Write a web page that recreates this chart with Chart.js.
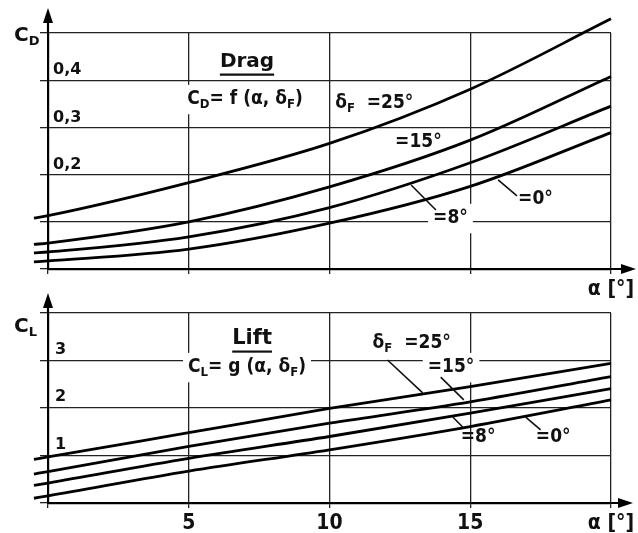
<!DOCTYPE html>
<html>
<head>
<meta charset="utf-8">
<script src="https://cdn.jsdelivr.net/npm/chart.js@4.4.1/dist/chart.umd.min.js"></script>
<style>
  body { margin: 0; background: #fff; }
  #wrap { position: relative; width: 638px; height: 533px; overflow: hidden; }
  canvas { position: absolute; left: 0; }
</style>
</head>
<body>
<div id="wrap">
  <canvas id="dragChart" width="638" height="300" style="top:0"></canvas>
  <canvas id="liftChart" width="638" height="248" style="top:285px"></canvas>
</div>
<script>
// angle of attack (deg) and read-off values
const alphaTicks = [0, 5, 10, 15, 20];
const dragAlphaLabels = ['', '', '', '', 'α [°]'];
const liftAlphaLabels = ['', '5', '10', '15', 'α [°]'];

const cdTicks = [0, 0.1, 0.2, 0.3, 0.4, 0.5];
const cdTickLabels = ['', '', '0,2', '0,3', '0,4', ''];
const clTicks = [0, 1, 2, 3, 4];
const clTickLabels = ['', '1', '2', '3', ''];

const curveAlpha = [-0.5, 0, 5, 10, 15, 20];
const cdFlap25 = [0.108, 0.113, 0.183, 0.266, 0.381, 0.53];
const cdFlap15 = [0.052, 0.055, 0.100, 0.174, 0.273, 0.408];
const cdFlap8 = [0.034, 0.036, 0.068, 0.130, 0.225, 0.345];
const cdFlap0 = [0.015, 0.017, 0.042, 0.097, 0.175, 0.289];

const clFlap25 = [0.92, 0.97, 1.48, 1.99, 2.45, 2.94];
const clFlap15 = [0.61, 0.66, 1.19, 1.68, 2.13, 2.66];
const clFlap8 = [0.37, 0.42, 0.94, 1.40, 1.89, 2.41];
const clFlap0 = [0.10, 0.15, 0.67, 1.12, 1.61, 2.17];

const textFont = 'DejaVu Sans Condensed';

// split "C_D" style strings into normal / subscript parts
function richParts(str) {
  const parts = [];
  for (let i = 0; i < str.length; i++) {
    if (str[i] === '_') { parts.push({ t: str[i + 1], sub: true }); i++; }
    else if (parts.length && !parts[parts.length - 1].sub) parts[parts.length - 1].t += str[i];
    else parts.push({ t: str[i], sub: false });
  }
  return parts;
}

function drawRich(ctx, lab, px, py) {
  const fam = lab.family || textFont;
  const w8 = lab.light ? '' : 'bold ';
  const mainFont = w8 + lab.size + 'px "' + fam + '"';
  const subFont = w8 + Math.round(lab.size * 0.66) + 'px "' + fam + '"';
  const parts = richParts(lab.text);
  let w = 0;
  parts.forEach(p => { ctx.font = p.sub ? subFont : mainFont; p.w = ctx.measureText(p.t).width; w += p.w; });
  const x0 = lab.align === 'center' ? px - w / 2 : px;
  if (lab.box) {
    ctx.fillStyle = '#fff';
    ctx.fillRect(x0 - 5, py - lab.size * 0.75, w + 10, lab.size * 1.55);
  }
  ctx.fillStyle = '#111';
  ctx.textBaseline = 'middle';
  ctx.textAlign = 'left';
  let x = x0;
  parts.forEach(p => {
    ctx.font = p.sub ? subFont : mainFont;
    ctx.fillText(p.t, x, p.sub ? py + lab.size * 0.3 : py);
    x += p.w;
  });
  if (lab.underline) {
    ctx.lineWidth = 2.2;
    ctx.strokeStyle = '#111';
    ctx.beginPath();
    ctx.moveTo(x0, py + lab.size * 0.62);
    ctx.lineTo(x0 + w, py + lab.size * 0.62);
    ctx.stroke();
  }
}

// axis arrows, axis title, labels and leader lines
const decorPlugin = {
  id: 'decor',
  beforeDatasetsDraw(chart, args, opts) {
    const { ctx, scales: { x, y } } = chart;
    ctx.save();
    opts.labels.forEach(l => drawRich(ctx, l, x.getPixelForValue(l.a), y.getPixelForValue(l.v)));
    ctx.restore();
  },
  afterDatasetsDraw(chart, args, opts) {
    const { ctx, chartArea: a, scales: { x, y } } = chart;
    ctx.save();
    ctx.strokeStyle = '#000';
    ctx.fillStyle = '#000';
    ctx.lineWidth = 2.2;
    const top = a.top - opts.arrowUp, right = a.right + opts.arrowRight;
    ctx.beginPath();
    ctx.moveTo(a.left, a.top); ctx.lineTo(a.left, top + 6);
    ctx.moveTo(a.right, a.bottom); ctx.lineTo(right - 6, a.bottom);
    ctx.stroke();
    ctx.beginPath();
    ctx.moveTo(a.left, top); ctx.lineTo(a.left - 5, top + 15); ctx.lineTo(a.left + 5, top + 15); ctx.closePath();
    ctx.moveTo(right, a.bottom); ctx.lineTo(right - 15, a.bottom - 5); ctx.lineTo(right - 15, a.bottom + 5); ctx.closePath();
    ctx.fill();

    // leader lines
    ctx.lineWidth = 1.6;
    ctx.strokeStyle = '#111';
    opts.leaders.forEach(l => {
      ctx.beginPath();
      ctx.moveTo(x.getPixelForValue(l[0]), y.getPixelForValue(l[1]));
      ctx.lineTo(x.getPixelForValue(l[2]), y.getPixelForValue(l[3]));
      ctx.stroke();
    });

    // axis title, e.g. C_D
    drawRich(ctx, { text: opts.title, size: 20, family: 'DejaVu Sans' }, 14, a.top + opts.titleDy);
    ctx.restore();
  }
};

function curve(values) {
  return {
    data: curveAlpha.map((a, i) => ({ x: a, y: values[i] })),
    borderColor: '#000',
    borderWidth: 2.8,
    pointRadius: 0,
    cubicInterpolationMode: 'monotone',
    clip: false
  };
}

function makeChart(id, cfg) {
  return new Chart(document.getElementById(id), {
    type: 'line',
    data: { datasets: cfg.series.map(curve) },
    options: {
      responsive: false,
      devicePixelRatio: 1,
      animation: false,
      layout: { padding: { left: 48, right: 27, top: cfg.padTop, bottom: 0 } },
      plugins: {
        legend: { display: false },
        tooltip: { enabled: false },
        decor: cfg.decor
      },
      scales: {
        x: {
          type: 'linear',
          min: 0, max: 20,
          afterBuildTicks: s => { s.ticks = alphaTicks.map(v => ({ value: v })); },
          afterFit: s => { s.height = cfg.xHeight; },
          grid: { color: '#222', lineWidth: 1.3, tickLength: 5 },
          border: { color: '#000', width: 2.2 },
          ticks: {
            autoSkip: false, maxRotation: 0, padding: 3, color: '#111',
            font: { family: textFont, size: 21, weight: 'bold' },
            callback: (v, i) => cfg.xLabels[i]
          }
        },
        y: {
          min: cfg.yTicks[0], max: cfg.yTicks[cfg.yTicks.length - 1],
          afterBuildTicks: s => { s.ticks = cfg.yTicks.map(v => ({ value: v })); },
          afterFit: s => { s.width = 0; },
          grid: { color: '#222', lineWidth: 1.3, tickLength: 8 },
          border: { color: '#000', width: 2.2 },
          ticks: {
            mirror: true, padding: cfg.yPad, labelOffset: cfg.yOffset, color: '#111',
            font: { family: 'DejaVu Sans', size: 16, weight: 'bold' },
            callback: (v, i) => cfg.yLabels[i]
          }
        }
      }
    },
    plugins: [decorPlugin]
  });
}

makeChart('dragChart', {
  series: [cdFlap25, cdFlap15, cdFlap8, cdFlap0],
  padTop: 33, xHeight: 31,
  xLabels: dragAlphaLabels, yTicks: cdTicks, yLabels: cdTickLabels,
  yPad: 5, yOffset: -10,
  decor: {
    title: 'C_D', titleDy: 3, arrowUp: 25, arrowRight: 25,
    labels: [
      { text: 'Drag', a: 7.07, v: 0.438, size: 20, family: 'DejaVu Sans', align: 'center', box: true, underline: true },
      { text: 'C_D= f (α, δ_F)', a: 7.0, v: 0.360, size: 19, align: 'center', box: true },
      { text: 'δ_F  =25°', a: 10.2, v: 0.352, size: 19 },
      { text: '=15°', a: 12.33, v: 0.269, size: 19 },
      { text: '=8°', a: 13.68, v: 0.108, size: 19, box: true },
      { text: '=0°', a: 16.7, v: 0.148, size: 19 }
    ],
    leaders: [
      [12.9, 0.178, 13.78, 0.125],
      [15.99, 0.189, 16.66, 0.155]
    ]
  }
});

makeChart('liftChart', {
  series: [clFlap25, clFlap15, clFlap8, clFlap0],
  padTop: 28, xHeight: 30,
  xLabels: liftAlphaLabels, yTicks: clTicks, yLabels: clTickLabels,
  yPad: 7, yOffset: -11,
  decor: {
    title: 'C_L', titleDy: 14, arrowUp: 20, arrowRight: 22,
    labels: [
      { text: 'Lift', a: 7.25, v: 3.46, size: 21, family: 'DejaVu Sans', align: 'center', underline: true },
      { text: 'C_L= g (α, δ_F)', a: 7.07, v: 2.86, size: 19, align: 'center', box: true },
      { text: 'δ_F  =25°', a: 11.53, v: 3.37, size: 19 },
      { text: '=15°', a: 13.49, v: 2.86, size: 19, box: true },
      { text: '=8°', a: 14.66, v: 1.39, size: 19 },
      { text: '=0°', a: 17.33, v: 1.39, size: 19 }
    ],
    leaders: [
      [12.06, 3.01, 13.31, 2.32],
      [13.95, 2.65, 14.77, 2.17],
      [14.38, 1.81, 14.73, 1.6],
      [16.97, 1.81, 17.5, 1.54]
    ]
  }
});
</script>
</body>
</html>
